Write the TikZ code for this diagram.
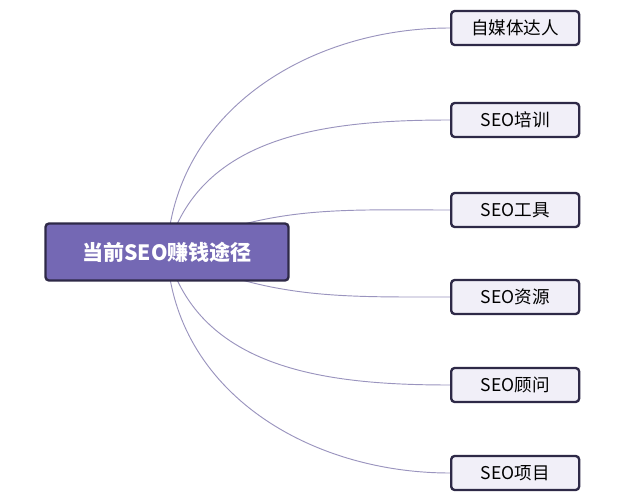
\documentclass[tikz,border=0pt]{standalone}
\usepackage{fontspec}
\setmainfont{Noto Sans CJK SC}
\usetikzlibrary{backgrounds}
\definecolor{rootfill}{HTML}{7468B4}
\definecolor{leaffill}{HTML}{F1EFF8}
\definecolor{boxline}{HTML}{2E2947}
\definecolor{linkline}{HTML}{9A94BE}

\begin{document}
\begin{tikzpicture}[x=0.03cm,y=-0.03cm,
                    link/.style={draw=linkline,thick},
                    rootbox/.style={draw=boxline,line width=2pt,fill=rootfill,rounded corners=3pt,
                        minimum width=7.29cm,minimum height=1.71cm,text=white,
                        font=\fontsize{18}{21}\selectfont\bfseries},
                    leaf/.style={draw=boxline,line width=2pt,fill=leaffill,rounded corners=3pt,
                        minimum width=3.84cm,minimum height=1.02cm,inner xsep=10pt,anchor=west,
                        font=\fontsize{15}{18}\selectfont}]
   \useasboundingbox (0,0) rectangle (640,504);

   \node[rootbox] (root) at (167,252) {当前SEO赚钱途径};

   \node[leaf] (media)   at (450,28)  {自媒体达人};
   \node[leaf] (train)   at (450,120) {SEO培训};
   \node[leaf] (tool)    at (450,210) {SEO工具};
   \node[leaf] (source)  at (450,297) {SEO资源};
   \node[leaf] (consult) at (450,385) {SEO顾问};
   \node[leaf] (project) at (450,473) {SEO项目};

   \begin{scope}[on background layer]
   \draw[link] (root.center) to[out=87,in=180]  (media.west);
   \draw[link] (root.center) to[out=75,in=180]  (train.west);
   \draw[link] (root.center) to[out=25,in=180]  (tool.west);
   \draw[link] (root.center) to[out=-25,in=180] (source.west);
   \draw[link] (root.center) to[out=-75,in=180] (consult.west);
   \draw[link] (root.center) to[out=-87,in=180] (project.west);
   \end{scope}
\end{tikzpicture}
\end{document}
